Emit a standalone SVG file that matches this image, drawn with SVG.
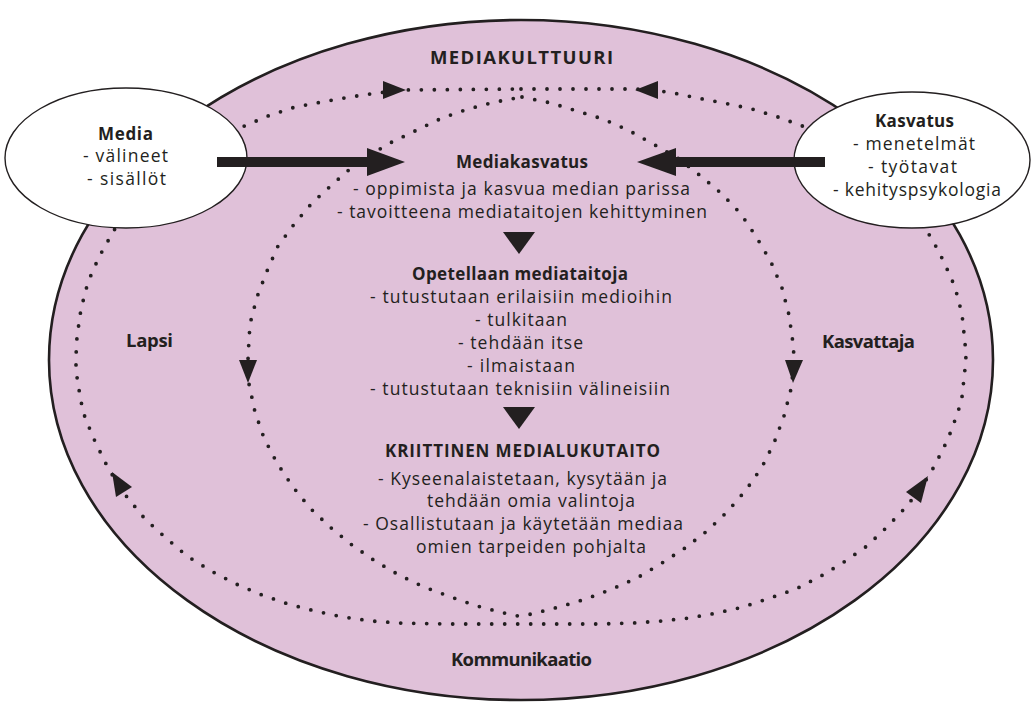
<svg xmlns="http://www.w3.org/2000/svg" width="1033" height="703" viewBox="0 0 1033 703">
<style>
text{font-family:"Open Sans","DejaVu Sans",sans-serif;fill:#231f20;text-anchor:middle;font-size:17.5px}
.b{font-weight:bold;font-size:17px}
.lbl{font-weight:bold;font-size:18.5px}
.dots{fill:none;stroke:#231f20;stroke-width:3.8;stroke-linecap:round;stroke-linejoin:round;stroke-dasharray:0 13}
.head{fill:#231f20}
</style>
<rect width="1033" height="703" fill="#ffffff"/>
<g id="mediakulttuuri">
<ellipse cx="521" cy="360" rx="472" ry="340" fill="#e0c1d9" stroke="#231f20" stroke-width="2.6"/>
<text class="lbl" x="521.5" y="64" textLength="183" lengthAdjust="spacing">MEDIAKULTTUURI</text>
<text class="lbl" x="149.5" y="347" textLength="47" lengthAdjust="spacing">Lapsi</text>
<text class="lbl" x="868.5" y="348" textLength="93" lengthAdjust="spacing">Kasvattaja</text>
<text class="lbl" x="521.5" y="666" textLength="141" lengthAdjust="spacing">Kommunikaatio</text>
</g>
<g id="connectors">
<path class="dots" d="M521,89 L635,89 L669,92 L697,98 L724,103 L752,109 L778,117 L805,127 L830,140 L870,170 L905,205 L931,237 L944,262 L955,287 L962,314 L965,343 L966,356 L965,369 L962,397 L958,412 L948,439 L935,465 L928,477 L918,492 L906,507 L887,527 L867,546 L844,562 L821,576 L796,589 L770,598 L743,607 L717,613 L689,618 L662,621 L634,623 L600,624 L450,624 L399,623 L371,621 L343,617 L315,611 L288,604 L262,595 L236,584 L211,571 L187,556 L166,538 L145,519 L127,497 L118,485 L105,462 L93,437 L83,412 L78,384 L76,370 L76,356 L77,337 L81,309 L88,282 L99,257 L113,232 L130,205 L160,175 L200,148 L242,127 L268,116 L295,107 L322,102 L350,97 L377,93 L405,90 Z"/>
<path class="dots" d="M522,97 L551,103 L577,111 L603,119 L628,130 L655,145 L679,159 L702,177 L722,194 L741,214 L757,238 L771,262 L782,288 L789,315 L793,343 L794,357 L793,372 L791,389 L784,416 L774,443 L762,467 L746,490 L727,512 L707,531 L685,548 L662,563 L637,578 L612,589 L586,599 L559,607 L532,614 L518,616 L504,613 L477,606 L451,597 L424,587 L399,575 L375,561 L352,545 L330,527 L310,508 L293,487 L277,463 L264,438 L255,412 L249,384 L248,357 L250,324 L257,297 L267,271 L278,246 L295,223 L312,203 L335,182 L358,162 L390,143 L417,130 L442,118 L468,109 L495,102 Z"/>
<polygon class="head" points="383,81 383,99 406,90"/>
<polygon class="head" points="658,81 658,99 635,90"/>
<polygon class="head" points="239,360 257,360 248,383"/>
<polygon class="head" points="785,360 803,360 793,383"/>
<polygon class="head" points="112,472 116,497 132,487"/>
<polygon class="head" points="928,476 906,492 921,503"/>
</g>
<g id="media">
<ellipse cx="126" cy="158" rx="121" ry="70" fill="#ffffff" stroke="#231f20" stroke-width="1.4"/>
<text class="b" x="125.5" y="140" textLength="55" lengthAdjust="spacing">Media</text>
<text x="125.5" y="162" textLength="85" lengthAdjust="spacing">- välineet</text>
<text x="126.5" y="185" textLength="79" lengthAdjust="spacing">- sisällöt</text>
</g>
<g id="kasvatus">
<ellipse cx="912" cy="160" rx="118" ry="68" fill="#ffffff" stroke="#231f20" stroke-width="1.4"/>
<text class="b" x="914.5" y="127" textLength="79" lengthAdjust="spacing">Kasvatus</text>
<text x="914" y="150" textLength="122" lengthAdjust="spacing">- menetelmät</text>
<text x="912.5" y="173" textLength="89" lengthAdjust="spacing">- työtavat</text>
<text x="917" y="196" textLength="168" lengthAdjust="spacing">- kehityspsykologia</text>
</g>
<g id="thick-arrows">
<rect x="217" y="157" width="152" height="10" fill="#231f20"/>
<polygon class="head" points="367,148 367,176 405,162"/>
<rect x="674" y="157" width="151" height="10" fill="#231f20"/>
<polygon class="head" points="676,148 676,176 637,162"/>
<polygon class="head" points="503,232 535,232 519,254"/>
<polygon class="head" points="503,407 535,407 519,429"/>
</g>
<g id="mediakasvatus">
<text class="b" x="522" y="168" textLength="132" lengthAdjust="spacing">Mediakasvatus</text>
<text x="521.5" y="195" textLength="337" lengthAdjust="spacing">- oppimista ja kasvua median parissa</text>
<text x="522" y="218" textLength="370" lengthAdjust="spacing">- tavoitteena mediataitojen kehittyminen</text>
</g>
<g id="mediataidot">
<text class="b" x="520" y="280" textLength="216" lengthAdjust="spacing">Opetellaan mediataitoja</text>
<text x="521" y="303" textLength="302" lengthAdjust="spacing">- tutustutaan erilaisiin medioihin</text>
<text x="521" y="326" textLength="92" lengthAdjust="spacing">- tulkitaan</text>
<text x="520.5" y="349" textLength="125" lengthAdjust="spacing">- tehdään itse</text>
<text x="521" y="372" textLength="108" lengthAdjust="spacing">- ilmaistaan</text>
<text x="520" y="395" textLength="300" lengthAdjust="spacing">- tutustutaan teknisiin välineisiin</text>
</g>
<g id="medialukutaito">
<text class="b" x="522.5" y="457" textLength="275" lengthAdjust="spacing">KRIITTINEN MEDIALUKUTAITO</text>
<text x="522.5" y="485" textLength="289" lengthAdjust="spacing">- Kyseenalaistetaan, kysytään ja</text>
<text x="531" y="507" textLength="208" lengthAdjust="spacing">tehdään omia valintoja</text>
<text x="523" y="530" textLength="320" lengthAdjust="spacing">- Osallistutaan ja käytetään mediaa</text>
<text x="531" y="553" textLength="230" lengthAdjust="spacing">omien tarpeiden pohjalta</text>
</g>
</svg>
